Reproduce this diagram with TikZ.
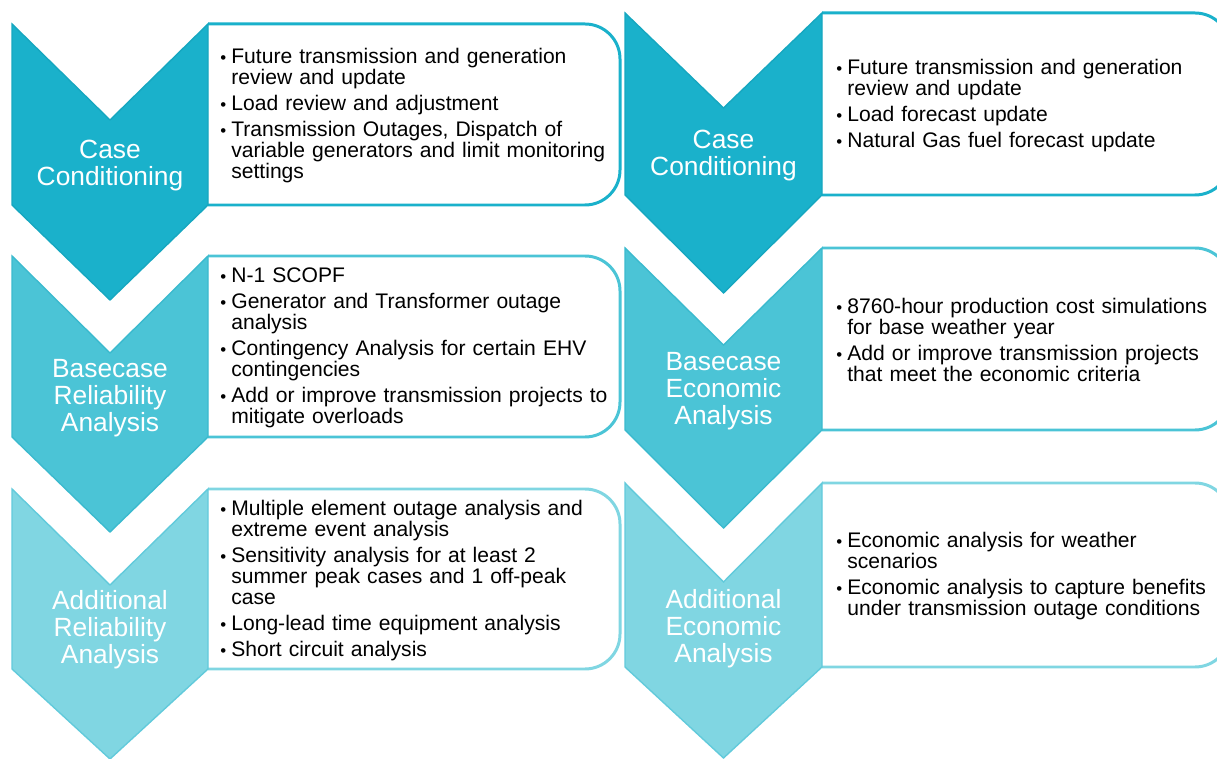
\documentclass[tikz,border=0pt]{standalone}
\usepackage{fontspec}
\setmainfont{Liberation Sans}
\definecolor{tealA}{HTML}{1AB1CB}
\definecolor{tealAd}{HTML}{16A7C0}
\definecolor{tealB}{HTML}{4BC4D6}
\definecolor{tealBd}{HTML}{3BBACE}
\definecolor{tealC}{HTML}{80D6E2}
\definecolor{tealCd}{HTML}{62CADB}
\newcommand{\bul}[1]{\par\noindent\hangindent=0.22cm\hangafter=1\makebox[0.22cm][l]{\scalebox{0.8}{\textbullet}}#1\par}
\begin{document}
\begin{tikzpicture}[x=0.02cm, y=-0.02cm,
	lbl/.style = {align=center, text=white, inner sep=0pt, font=\fontsize{15}{15.4}\selectfont},
	txt/.style = {anchor=west, text width=7.9cm, align=left, inner sep=0pt,
		font=\fontsize{12}{12}\selectfont\setlength{\parskip}{2.7pt}},
	box/.style = {line width=1.7pt, fill=white, rounded corners=0.7cm},
	chev/.style = {line width=0.8pt, line join=miter}]
	\useasboundingbox (0,0) rectangle (1217,759);

	% left column
	\draw[box, draw=tealA]	(208, 24) -- (620, 24) -- (620,205) -- (208,205);
	\draw[chev, draw=tealAd, fill=tealA]	(12, 24) -- (110,120) -- (208, 24) -- (208,205) -- (110,300) -- (12,205) -- cycle;
	\draw[box, draw=tealB]	(208,256) -- (620,256) -- (620,437) -- (208,437);
	\draw[chev, draw=tealBd, fill=tealB]	(12,256) -- (110,353) -- (208,256) -- (208,437) -- (110,532) -- (12,437) -- cycle;
	\draw[box, draw=tealC]	(208,489) -- (620,489) -- (620,669) -- (208,669);
	\draw[chev, draw=tealCd, fill=tealC]	(12,489) -- (110,585) -- (208,489) -- (208,669) -- (110,759) -- (12,669) -- cycle;

	% right column
	\draw[box, draw=tealA]	(822, 13) -- (1230, 13) -- (1230,195) -- (822,195);
	\draw[chev, draw=tealAd, fill=tealA]	(625, 13) -- (723.5,108) -- (822, 13) -- (822,195) -- (723.5,293) -- (625,195) -- cycle;
	\draw[box, draw=tealB]	(822,248) -- (1230,248) -- (1230,430) -- (822,430);
	\draw[chev, draw=tealBd, fill=tealB]	(625,248) -- (723.5,345) -- (822,248) -- (822,430) -- (723.5,528) -- (625,430) -- cycle;
	\draw[box, draw=tealC]	(822,483) -- (1230,483) -- (1230,667) -- (822,667);
	\draw[chev, draw=tealCd, fill=tealC]	(625,483) -- (723.5,582) -- (822,483) -- (822,667) -- (723.5,758) -- (625,667) -- cycle;

	% chevron labels
	\node (caseL) at (110,165.5)	[lbl]	{Case\\Conditioning};
	\node (baseL) at (110,398)	[lbl]	{Basecase\\Reliability\\Analysis};
	\node (addL)  at (110,630)	[lbl]	{Additional\\Reliability\\Analysis};
	\node (caseR) at (723.5,156)	[lbl]	{Case\\Conditioning};
	\node (baseR) at (723.5,391.5)	[lbl]	{Basecase\\Economic\\Analysis};
	\node (addR)  at (723.5,628.5)	[lbl]	{Additional\\Economic\\Analysis};

	% bullet lists
	\node (caseLtxt) at (220,110.5)	[txt]	{\bul{Future transmission and generation\newline review and update}
		\bul{Load review and adjustment}
		\bul{Transmission Outages, Dispatch of\newline variable generators and limit monitoring\newline settings}};
	\node (baseLtxt) at (220,342.5)	[txt]	{\bul{N-1 SCOPF}
		\bul{Generator and Transformer outage\newline analysis}
		\bul{Contingency Analysis for certain EHV\newline contingencies}
		\bul{Add or improve transmission projects to\newline mitigate overloads}};
	\node (addLtxt)  at (220,575)	[txt]	{\bul{Multiple element outage analysis and\newline extreme event analysis}
		\bul{Sensitivity analysis for at least 2\newline summer peak cases and 1 off-peak\newline case}
		\bul{Long-lead time equipment analysis}
		\bul{Short circuit analysis}};
	\node (caseRtxt) at (836,100)	[txt]	{\bul{Future transmission and generation\newline review and update}
		\bul{Load forecast update}
		\bul{Natural Gas fuel forecast update}};
	\node (baseRtxt) at (836,334.5)	[txt]	{\bul{8760-hour production cost simulations\newline for base weather year}
		\bul{Add or improve transmission projects\newline that meet the economic criteria}};
	\node (addRtxt)  at (836,571)	[txt]	{\bul{Economic analysis for weather\newline scenarios}
		\bul{Economic analysis to capture benefits\newline under transmission outage conditions}};
\end{tikzpicture}
\end{document}
